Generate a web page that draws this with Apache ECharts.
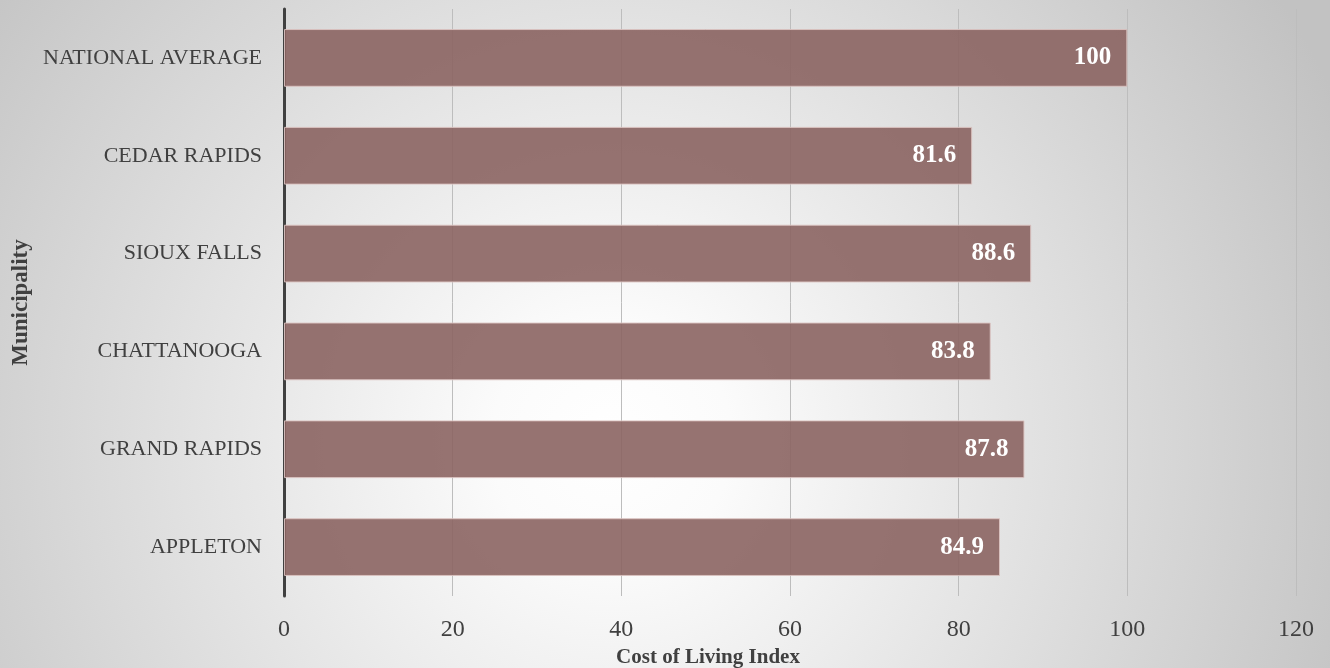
<!DOCTYPE html>
<html>
<head>
<meta charset="utf-8">
<script src="https://cdn.jsdelivr.net/npm/echarts@6/dist/echarts.min.js"></script>
<style>html,body{margin:0;padding:0;}#c{width:1330px;height:668px;}</style>
</head>
<body>
<div id="c"></div>
<script>
const categories = ['APPLETON', 'GRAND RAPIDS', 'CHATTANOOGA', 'SIOUX FALLS', 'CEDAR RAPIDS', 'NATIONAL AVERAGE'];
const values = [84.9, 87.8, 83.8, 88.6, 81.6, 100];
const xTicks = { min: 0, max: 120, interval: 20 };
const xTitle = 'Cost of Living Index';
const yTitle = 'Municipality';

const serif = '"Liberation Serif", "DejaVu Serif", serif';
const chart = echarts.init(document.getElementById('c'));
chart.setOption({
  backgroundColor: {
    type: 'radial', x: 0.46, y: 0.66, r: 1.2,
    colorStops: [
      { offset: 0, color: '#ffffff' },
      { offset: 0.15, color: '#fbfbfb' },
      { offset: 1, color: '#c2c2c2' }
    ]
  },
  animation: false,
  grid: { left: 284, right: 34, top: 9, bottom: 72, containLabel: false, outerBoundsMode: 'none' },
  xAxis: {
    type: 'value', min: xTicks.min, max: xTicks.max, interval: xTicks.interval,
    name: xTitle, nameLocation: 'middle', nameGap: 49,
    nameTextStyle: { fontFamily: serif, fontWeight: 'bold', fontSize: 21, color: '#404040', padding: [0, 164, 0, 0] },
    axisLine: { show: false },
    axisTick: { show: false },
    axisLabel: { fontFamily: serif, fontSize: 24, color: '#404040', margin: 22 },
    splitLine: { show: true, lineStyle: { color: '#bdbdbd', width: 1 } }
  },
  yAxis: {
    type: 'category', data: categories,
    name: yTitle, nameLocation: 'middle', nameGap: 251, nameRotate: 90,
    nameTextStyle: { fontFamily: serif, fontWeight: 'bold', fontSize: 23, color: '#404040' },
    axisLine: { show: true, lineStyle: { color: '#404040', width: 3 } },
    axisTick: { show: false },
    axisLabel: { fontFamily: serif, fontSize: 22, color: '#404040', margin: 22 },
    splitLine: { show: false }
  },
  series: [{
    type: 'bar', data: values, barWidth: '59%',
    itemStyle: { color: 'rgba(139,100,98,0.9)', borderColor: 'rgba(220,195,193,0.9)', borderWidth: 1 },
    label: {
      show: true, position: 'insideRight', distance: 16,
      fontFamily: serif, fontWeight: 'bold', fontSize: 25, color: '#ffffff'
    }
  }]
});
</script>
</body>
</html>
